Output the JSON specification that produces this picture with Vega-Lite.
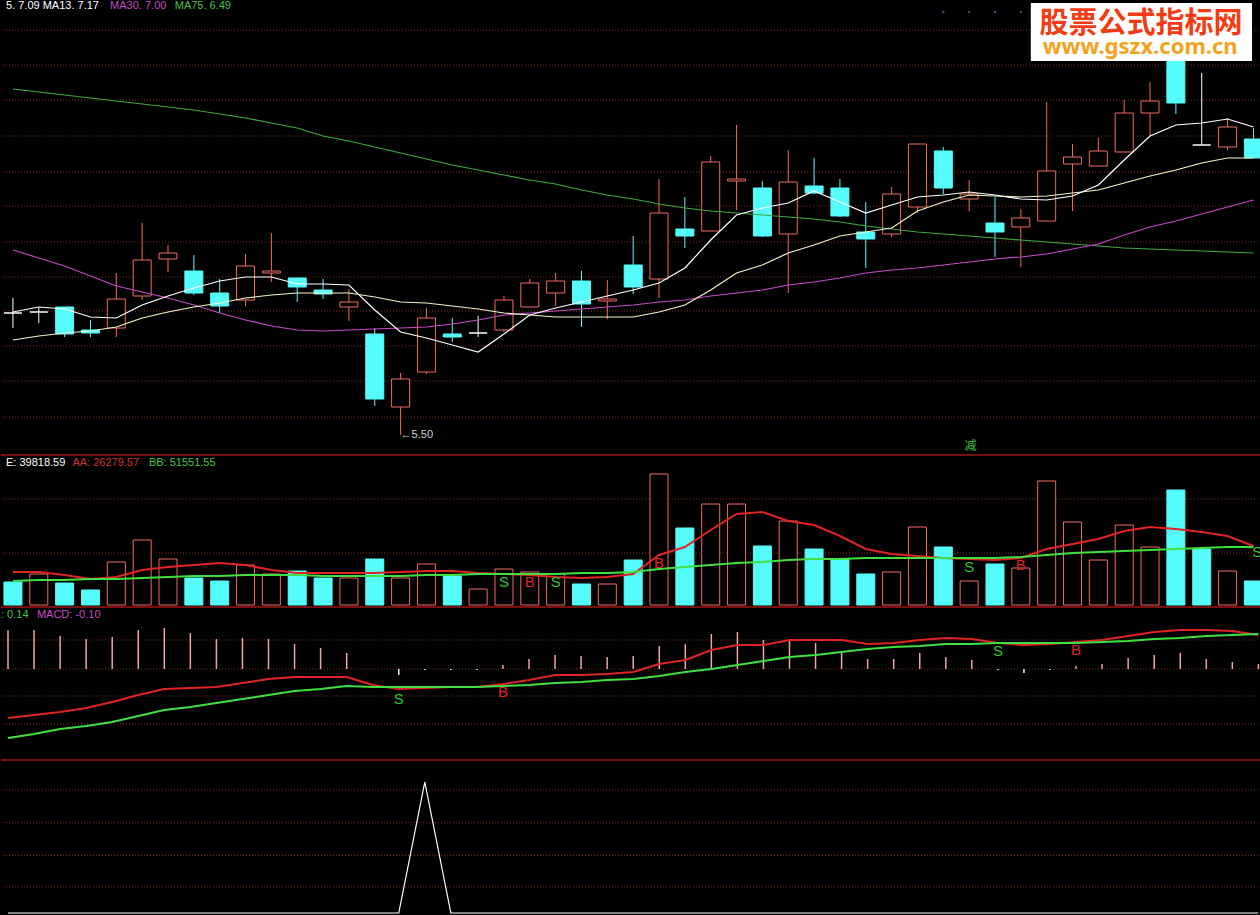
{
"$schema":"https://vega.github.io/schema/vega-lite/v6.json",
"background":"#000000","padding":0,"spacing":0,"bounds":"flush",
"config":{"view":{"stroke":null},"axis":{"disable":true},"legend":{"disable":true},"text":{"font":"Liberation Sans"}},
"datasets":{
"k":[
{"i":0,"o":6.72,"c":6.72,"h":6.87,"l":6.57,"d":"flat","m5":6.73,"m13":6.45,"m30":7.35,"m75":8.96,"v":23000,"vd":"down","aa":33000,"bb":24000,"dif":-0.49,"dea":-0.69,"hist":0.39,"z":0},
{"i":1,"o":6.73,"c":6.73,"h":6.77,"l":6.62,"d":"flat","m5":6.78,"m13":6.49,"m30":7.27,"m75":8.93,"v":31000,"vd":"up","aa":33000,"bb":25000,"dif":-0.46,"dea":-0.65,"hist":0.39,"z":0},
{"i":2,"o":6.78,"c":6.51,"h":6.78,"l":6.48,"d":"down","m5":6.76,"m13":6.52,"m30":7.19,"m75":8.90,"v":22000,"vd":"down","aa":30000,"bb":25000,"dif":-0.43,"dea":-0.60,"hist":0.33,"z":0},
{"i":3,"o":6.55,"c":6.52,"h":6.65,"l":6.48,"d":"down","m5":6.68,"m13":6.54,"m30":7.09,"m75":8.87,"v":15000,"vd":"down","aa":26000,"bb":26000,"dif":-0.39,"dea":-0.57,"hist":0.30,"z":0},
{"i":4,"o":6.57,"c":6.86,"h":7.12,"l":6.48,"d":"up","m5":6.67,"m13":6.58,"m30":6.99,"m75":8.84,"v":43000,"vd":"up","aa":28000,"bb":26000,"dif":-0.33,"dea":-0.53,"hist":0.32,"z":0},
{"i":5,"o":6.89,"c":7.25,"h":7.62,"l":6.85,"d":"up","m5":6.80,"m13":6.67,"m30":6.93,"m75":8.81,"v":65000,"vd":"up","aa":35000,"bb":27000,"dif":-0.26,"dea":-0.47,"hist":0.39,"z":0},
{"i":6,"o":7.26,"c":7.32,"h":7.40,"l":7.13,"d":"up","m5":6.89,"m13":6.73,"m30":6.87,"m75":8.78,"v":46000,"vd":"up","aa":38000,"bb":28000,"dif":-0.20,"dea":-0.41,"hist":0.41,"z":0},
{"i":7,"o":7.14,"c":6.92,"h":7.30,"l":6.90,"d":"down","m5":6.97,"m13":6.78,"m30":6.80,"m75":8.75,"v":27000,"vd":"down","aa":40000,"bb":29000,"dif":-0.19,"dea":-0.38,"hist":0.36,"z":0},
{"i":8,"o":6.92,"c":6.79,"h":7.06,"l":6.72,"d":"down","m5":7.04,"m13":6.82,"m30":6.72,"m75":8.71,"v":24000,"vd":"down","aa":42000,"bb":29000,"dif":-0.18,"dea":-0.34,"hist":0.30,"z":0},
{"i":9,"o":6.85,"c":7.19,"h":7.31,"l":6.79,"d":"up","m5":7.08,"m13":6.87,"m30":6.65,"m75":8.67,"v":40000,"vd":"up","aa":40000,"bb":30000,"dif":-0.14,"dea":-0.30,"hist":0.31,"z":0},
{"i":10,"o":7.12,"c":7.14,"h":7.52,"l":7.03,"d":"up","m5":7.08,"m13":6.90,"m30":6.59,"m75":8.62,"v":31000,"vd":"up","aa":35000,"bb":30000,"dif":-0.10,"dea":-0.26,"hist":0.30,"z":0},
{"i":11,"o":7.07,"c":6.98,"h":7.07,"l":6.83,"d":"down","m5":7.01,"m13":6.92,"m30":6.55,"m75":8.57,"v":34000,"vd":"down","aa":32000,"bb":30000,"dif":-0.08,"dea":-0.22,"hist":0.25,"z":0},
{"i":12,"o":6.95,"c":6.91,"h":7.06,"l":6.86,"d":"down","m5":7.01,"m13":6.92,"m30":6.54,"m75":8.49,"v":27000,"vd":"down","aa":32000,"bb":29000,"dif":-0.08,"dea":-0.20,"hist":0.21,"z":0},
{"i":13,"o":6.78,"c":6.83,"h":6.96,"l":6.64,"d":"up","m5":7.00,"m13":6.92,"m30":6.55,"m75":8.44,"v":27000,"vd":"up","aa":32000,"bb":29000,"dif":-0.08,"dea":-0.17,"hist":0.16,"z":0},
{"i":14,"o":6.51,"c":5.86,"h":6.57,"l":5.79,"d":"down","m5":6.75,"m13":6.88,"m30":6.56,"m75":8.38,"v":46000,"vd":"down","aa":32000,"bb":29000,"dif":-0.16,"dea":-0.18,"hist":0,"z":0},
{"i":15,"o":5.78,"c":6.06,"h":6.12,"l":5.50,"d":"up","m5":6.53,"m13":6.83,"m30":6.57,"m75":8.32,"v":27000,"vd":"up","aa":33000,"bb":29000,"dif":-0.20,"dea":-0.18,"hist":-0.06,"z":0},
{"i":16,"o":6.13,"c":6.67,"h":6.77,"l":6.11,"d":"up","m5":6.47,"m13":6.82,"m30":6.58,"m75":8.26,"v":41000,"vd":"up","aa":34000,"bb":30000,"dif":-0.19,"dea":-0.18,"hist":-0.01,"z":1},
{"i":17,"o":6.51,"c":6.48,"h":6.67,"l":6.43,"d":"down","m5":6.40,"m13":6.79,"m30":6.61,"m75":8.20,"v":29000,"vd":"down","aa":34000,"bb":30000,"dif":-0.18,"dea":-0.18,"hist":-0.01,"z":0},
{"i":18,"o":6.52,"c":6.52,"h":6.69,"l":6.48,"d":"flat","m5":6.33,"m13":6.76,"m30":6.65,"m75":8.15,"v":16000,"vd":"up","aa":32000,"bb":31000,"dif":-0.18,"dea":-0.18,"hist":-0.01,"z":0},
{"i":19,"o":6.55,"c":6.85,"h":6.89,"l":6.53,"d":"up","m5":6.51,"m13":6.72,"m30":6.70,"m75":8.10,"v":36000,"vd":"up","aa":31000,"bb":31000,"dif":-0.15,"dea":-0.17,"hist":0.04,"z":0},
{"i":20,"o":6.78,"c":7.02,"h":7.06,"l":6.78,"d":"up","m5":6.70,"m13":6.70,"m30":6.72,"m75":8.05,"v":33000,"vd":"up","aa":30000,"bb":31000,"dif":-0.11,"dea":-0.16,"hist":0.10,"z":0},
{"i":21,"o":6.92,"c":7.04,"h":7.12,"l":6.79,"d":"up","m5":6.77,"m13":6.68,"m30":6.74,"m75":8.01,"v":31000,"vd":"up","aa":28000,"bb":31000,"dif":-0.06,"dea":-0.14,"hist":0.14,"z":0},
{"i":22,"o":7.04,"c":6.81,"h":7.14,"l":6.58,"d":"down","m5":6.83,"m13":6.68,"m30":6.76,"m75":7.95,"v":21000,"vd":"down","aa":27000,"bb":32000,"dif":-0.06,"dea":-0.13,"hist":0.13,"z":0},
{"i":23,"o":6.84,"c":6.86,"h":7.05,"l":6.66,"d":"up","m5":6.89,"m13":6.68,"m30":6.78,"m75":7.90,"v":21000,"vd":"up","aa":28000,"bb":32000,"dif":-0.05,"dea":-0.11,"hist":0.12,"z":0},
{"i":24,"o":7.20,"c":6.98,"h":7.49,"l":6.91,"d":"down","m5":6.95,"m13":6.68,"m30":6.80,"m75":7.86,"v":45000,"vd":"down","aa":31000,"bb":33000,"dif":-0.03,"dea":-0.10,"hist":0.13,"z":0},
{"i":25,"o":7.06,"c":7.72,"h":8.06,"l":6.87,"d":"up","m5":7.02,"m13":6.73,"m30":6.83,"m75":7.81,"v":131000,"vd":"up","aa":50000,"bb":36000,"dif":0.05,"dea":-0.07,"hist":0.23,"z":0},
{"i":26,"o":7.56,"c":7.49,"h":7.88,"l":7.37,"d":"down","m5":7.17,"m13":6.80,"m30":6.85,"m75":7.77,"v":77000,"vd":"down","aa":58000,"bb":38000,"dif":0.09,"dea":-0.03,"hist":0.25,"z":0},
{"i":27,"o":7.54,"c":8.23,"h":8.29,"l":7.54,"d":"up","m5":7.45,"m13":6.95,"m30":6.89,"m75":7.74,"v":101000,"vd":"up","aa":75000,"bb":40000,"dif":0.19,"dea":0.00,"hist":0.35,"z":0},
{"i":28,"o":8.04,"c":8.06,"h":8.60,"l":7.75,"d":"up","m5":7.70,"m13":7.12,"m30":6.92,"m75":7.72,"v":101000,"vd":"up","aa":91000,"bb":42000,"dif":0.24,"dea":0.04,"hist":0.37,"z":0},
{"i":29,"o":7.97,"c":7.49,"h":8.04,"l":7.48,"d":"down","m5":7.77,"m13":7.20,"m30":6.95,"m75":7.70,"v":59000,"vd":"down","aa":93000,"bb":43000,"dif":0.24,"dea":0.08,"hist":0.29,"z":0},
{"i":30,"o":7.51,"c":8.03,"h":8.35,"l":6.92,"d":"up","m5":7.82,"m13":7.32,"m30":7.00,"m75":7.68,"v":84000,"vd":"up","aa":84000,"bb":45000,"dif":0.29,"dea":0.12,"hist":0.29,"z":0},
{"i":31,"o":7.99,"c":7.92,"h":8.27,"l":7.91,"d":"down","m5":7.94,"m13":7.40,"m30":7.03,"m75":7.66,"v":56000,"vd":"down","aa":80000,"bb":46000,"dif":0.29,"dea":0.14,"hist":0.26,"z":0},
{"i":32,"o":7.97,"c":7.69,"h":8.06,"l":7.68,"d":"down","m5":7.83,"m13":7.49,"m30":7.07,"m75":7.63,"v":46000,"vd":"down","aa":69000,"bb":46000,"dif":0.29,"dea":0.17,"hist":0.18,"z":0},
{"i":33,"o":7.53,"c":7.46,"h":7.83,"l":7.17,"d":"down","m5":7.72,"m13":7.53,"m30":7.12,"m75":7.59,"v":31000,"vd":"down","aa":56000,"bb":47000,"dif":0.25,"dea":0.20,"hist":0.10,"z":0},
{"i":34,"o":7.51,"c":7.91,"h":7.98,"l":7.48,"d":"up","m5":7.80,"m13":7.57,"m30":7.15,"m75":7.56,"v":33000,"vd":"up","aa":51000,"bb":47000,"dif":0.26,"dea":0.22,"hist":0.10,"z":0},
{"i":35,"o":7.78,"c":8.41,"h":8.41,"l":7.72,"d":"up","m5":7.88,"m13":7.74,"m30":7.17,"m75":7.53,"v":78000,"vd":"up","aa":49000,"bb":47000,"dif":0.29,"dea":0.23,"hist":0.16,"z":0},
{"i":36,"o":8.34,"c":7.97,"h":8.38,"l":7.91,"d":"down","m5":7.90,"m13":7.83,"m30":7.20,"m75":7.51,"v":58000,"vd":"down","aa":47000,"bb":47000,"dif":0.31,"dea":0.25,"hist":0.12,"z":0},
{"i":37,"o":7.86,"c":7.91,"h":8.05,"l":7.74,"d":"up","m5":7.93,"m13":7.90,"m30":7.23,"m75":7.49,"v":24000,"vd":"up","aa":46000,"bb":47000,"dif":0.30,"dea":0.25,"hist":0.09,"z":0},
{"i":38,"o":7.62,"c":7.53,"h":7.88,"l":7.28,"d":"down","m5":7.90,"m13":7.89,"m30":7.26,"m75":7.47,"v":41000,"vd":"down","aa":45000,"bb":47000,"dif":0.26,"dea":0.26,"hist":-0.01,"z":0},
{"i":39,"o":7.58,"c":7.67,"h":7.76,"l":7.18,"d":"up","m5":7.86,"m13":7.88,"m30":7.28,"m75":7.45,"v":37000,"vd":"up","aa":47000,"bb":48000,"dif":0.24,"dea":0.26,"hist":-0.04,"z":0},
{"i":40,"o":7.64,"c":8.14,"h":8.83,"l":7.64,"d":"up","m5":7.85,"m13":7.89,"m30":7.31,"m75":7.43,"v":124000,"vd":"up","aa":56000,"bb":50000,"dif":0.25,"dea":0.26,"hist":-0.01,"z":0},
{"i":41,"o":8.21,"c":8.28,"h":8.41,"l":7.74,"d":"up","m5":7.89,"m13":7.92,"m30":7.36,"m75":7.41,"v":83000,"vd":"up","aa":61000,"bb":52000,"dif":0.27,"dea":0.26,"hist":0.03,"z":0},
{"i":42,"o":8.19,"c":8.34,"h":8.47,"l":8.19,"d":"up","m5":8.00,"m13":7.95,"m30":7.41,"m75":7.39,"v":45000,"vd":"up","aa":66000,"bb":53000,"dif":0.29,"dea":0.27,"hist":0.05,"z":0},
{"i":43,"o":8.33,"c":8.72,"h":8.85,"l":8.33,"d":"up","m5":8.25,"m13":8.02,"m30":7.50,"m75":7.37,"v":80000,"vd":"up","aa":74000,"bb":54000,"dif":0.33,"dea":0.28,"hist":0.11,"z":0},
{"i":44,"o":8.72,"c":8.84,"h":9.03,"l":8.49,"d":"up","m5":8.49,"m13":8.09,"m30":7.58,"m75":7.36,"v":58000,"vd":"up","aa":78000,"bb":55000,"dif":0.37,"dea":0.30,"hist":0.14,"z":0},
{"i":45,"o":9.28,"c":8.82,"h":9.30,"l":8.71,"d":"down","m5":8.60,"m13":8.15,"m30":7.64,"m75":7.35,"v":115000,"vd":"down","aa":76000,"bb":56000,"dif":0.39,"dea":0.31,"hist":0.16,"z":0},
{"i":46,"o":8.40,"c":8.40,"h":9.12,"l":8.40,"d":"flat","m5":8.62,"m13":8.22,"m30":7.71,"m75":7.34,"v":56000,"vd":"down","aa":73000,"bb":57000,"dif":0.39,"dea":0.33,"hist":0.10,"z":0},
{"i":47,"o":8.38,"c":8.58,"h":8.67,"l":8.35,"d":"up","m5":8.66,"m13":8.27,"m30":7.78,"m75":7.33,"v":34000,"vd":"up","aa":69000,"bb":58000,"dif":0.38,"dea":0.34,"hist":0.07,"z":0},
{"i":48,"o":8.46,"c":8.27,"h":8.57,"l":8.27,"d":"down","m5":8.58,"m13":8.27,"m30":7.85,"m75":7.32,"v":24000,"vd":"down","aa":59000,"bb":58000,"dif":0.34,"dea":0.35,"hist":0.05,"z":0}
],
"gp":[{"p":9.55},{"p":9.20},{"p":8.85},{"p":8.49},{"p":8.13},{"p":7.79},{"p":7.43},{"p":7.08},{"p":6.74},{"p":6.39},{"p":6.04},{"p":5.68}],
"gv":[{"v":106000},{"v":52000}],
"gm":[{"m":0.29},{"m":0},{"m":-0.27},{"m":-0.55}],
"gz":[{"z":0.94},{"z":0.69},{"z":0.44},{"z":0.20}],
"sv":[{"i":19,"v":23000,"t":"S"},{"i":20,"v":23000,"t":"B"},{"i":21,"v":23000,"t":"S"},{"i":25,"v":42000,"t":"B"},{"i":37,"v":38000,"t":"S"},{"i":39,"v":40000,"t":"B"},{"i":48.15,"v":53000,"t":"S"}],
"sm":[{"i":15,"m":-0.30,"t":"S"},{"i":19,"m":-0.23,"t":"B"},{"i":38,"m":0.18,"t":"S"},{"i":41,"m":0.19,"t":"B"}],
"dots":[{"i":36,"p":9.73},{"i":37,"p":9.73},{"i":38,"p":9.73},{"i":39,"p":9.73}]
},
"vconcat":[
{"width":1260,"height":455,
 "layer":[
  {"data":{"name":"gp"},"mark":{"type":"rule","color":"#7a3418","strokeDash":[1,2],"strokeWidth":1},
   "encoding":{"y":{"field":"p","type":"quantitative","scale":{"domain":[5.30,9.85],"nice":false,"zero":false}}}},
  {"data":{"name":"k"},"mark":{"type":"rule","strokeWidth":1,"clip":true},
   "encoding":{"x":{"field":"i","type":"quantitative","scale":{"domain":[-0.269,48.1],"nice":false,"zero":false}},
    "y":{"field":"l","type":"quantitative","scale":{"domain":[5.30,9.85],"nice":false,"zero":false}},"y2":{"field":"h"},
    "stroke":{"field":"d","type":"nominal","scale":{"domain":["up","down","flat"],"range":["#f06a62","#54fcfc","#ffffff"]}}}},
  {"data":{"name":"k"},"mark":{"type":"bar","size":18,"strokeWidth":1,"orient":"vertical","clip":true},
   "encoding":{"x":{"field":"i","type":"quantitative","scale":{"domain":[-0.269,48.1],"nice":false,"zero":false}},
    "y":{"field":"o","type":"quantitative","scale":{"domain":[5.30,9.85],"nice":false,"zero":false}},"y2":{"field":"c"},
    "fill":{"field":"d","type":"nominal","scale":{"domain":["up","down","flat"],"range":["#000000","#54fcfc","#000000"]}},
    "stroke":{"field":"d","type":"nominal","scale":{"domain":["up","down","flat"],"range":["#f06a62","#54fcfc","#ffffff"]}}}},
  {"data":{"name":"k"},"mark":{"type":"line","color":"#3fa83f","strokeWidth":1.2,"clip":true},
   "encoding":{"x":{"field":"i","type":"quantitative","scale":{"domain":[-0.269,48.1],"nice":false,"zero":false}},
    "y":{"field":"m75","type":"quantitative","scale":{"domain":[5.30,9.85],"nice":false,"zero":false}}}},
  {"data":{"name":"k"},"mark":{"type":"line","color":"#c848c8","strokeWidth":1.2,"clip":true},
   "encoding":{"x":{"field":"i","type":"quantitative","scale":{"domain":[-0.269,48.1],"nice":false,"zero":false}},
    "y":{"field":"m30","type":"quantitative","scale":{"domain":[5.30,9.85],"nice":false,"zero":false}}}},
  {"data":{"name":"k"},"mark":{"type":"line","color":"#f4f4c8","strokeWidth":1.2,"clip":true},
   "encoding":{"x":{"field":"i","type":"quantitative","scale":{"domain":[-0.269,48.1],"nice":false,"zero":false}},
    "y":{"field":"m13","type":"quantitative","scale":{"domain":[5.30,9.85],"nice":false,"zero":false}}}},
  {"data":{"name":"k"},"mark":{"type":"line","color":"#ffffff","strokeWidth":1.2,"clip":true},
   "encoding":{"x":{"field":"i","type":"quantitative","scale":{"domain":[-0.269,48.1],"nice":false,"zero":false}},
    "y":{"field":"m5","type":"quantitative","scale":{"domain":[5.30,9.85],"nice":false,"zero":false}}}},
  {"data":{"name":"dots"},"mark":{"type":"point","filled":true,"size":6,"color":"#9a48c0"},
   "encoding":{"x":{"field":"i","type":"quantitative","scale":{"domain":[-0.269,48.1],"nice":false,"zero":false}},
    "y":{"field":"p","type":"quantitative","scale":{"domain":[5.30,9.85],"nice":false,"zero":false}}}},
  {"data":{"values":[{"i":-0.269,"p":9.85,"t":"5. 7.09 MA13. 7.17"}]},"mark":{"type":"text","align":"left","baseline":"top","fontSize":11,"color":"#ffffff","clip":true},
   "encoding":{"x":{"field":"i","type":"quantitative","scale":{"domain":[-0.269,48.1],"nice":false,"zero":false}},
    "y":{"field":"p","type":"quantitative","scale":{"domain":[5.30,9.85],"nice":false,"zero":false}},"text":{"field":"t"}}},
  {"data":{"values":[{"i":3.76,"p":9.85,"t":"MA30. 7.00"}]},"mark":{"type":"text","align":"left","baseline":"top","fontSize":11,"color":"#c848c8","clip":true},
   "encoding":{"x":{"field":"i","type":"quantitative","scale":{"domain":[-0.269,48.1],"nice":false,"zero":false}},
    "y":{"field":"p","type":"quantitative","scale":{"domain":[5.30,9.85],"nice":false,"zero":false}},"text":{"field":"t"}}},
  {"data":{"values":[{"i":6.26,"p":9.85,"t":"MA75. 6.49"}]},"mark":{"type":"text","align":"left","baseline":"top","fontSize":11,"color":"#4cc04c","clip":true},
   "encoding":{"x":{"field":"i","type":"quantitative","scale":{"domain":[-0.269,48.1],"nice":false,"zero":false}},
    "y":{"field":"p","type":"quantitative","scale":{"domain":[5.30,9.85],"nice":false,"zero":false}},"text":{"field":"t"}}},
  {"data":{"values":[{"i":15.0,"p":5.50,"t":"←5.50"}]},"mark":{"type":"text","align":"left","baseline":"middle","fontSize":11,"color":"#d0d0d0"},
   "encoding":{"x":{"field":"i","type":"quantitative","scale":{"domain":[-0.269,48.1],"nice":false,"zero":false}},
    "y":{"field":"p","type":"quantitative","scale":{"domain":[5.30,9.85],"nice":false,"zero":false}},"text":{"field":"t"}}},
  {"data":{"values":[{"i":37.05,"p":5.39,"t":"减"}]},"mark":{"type":"text","align":"center","baseline":"middle","fontSize":12,"font":"Noto Sans CJK SC","color":"#3cc03c"},
   "encoding":{"x":{"field":"i","type":"quantitative","scale":{"domain":[-0.269,48.1],"nice":false,"zero":false}},
    "y":{"field":"p","type":"quantitative","scale":{"domain":[5.30,9.85],"nice":false,"zero":false}},"text":{"field":"t"}}},
  {"data":{"values":[{"a":39.386,"b":47.946,"p1":9.82,"p2":9.24}]},"mark":{"type":"rect","color":"#ffffff"},
   "encoding":{"x":{"field":"a","type":"quantitative","scale":{"domain":[-0.269,48.1],"nice":false,"zero":false}},"x2":{"field":"b"},
    "y":{"field":"p1","type":"quantitative","scale":{"domain":[5.30,9.85],"nice":false,"zero":false}},"y2":{"field":"p2"}}},
  {"data":{"values":[{"i":43.65,"p":9.615,"t":"股票公式指标网"}]},"mark":{"type":"text","align":"center","baseline":"middle","fontSize":29,"font":"Noto Sans CJK SC","fontWeight":"bold","color":"#f43c14"},
   "encoding":{"x":{"field":"i","type":"quantitative","scale":{"domain":[-0.269,48.1],"nice":false,"zero":false}},
    "y":{"field":"p","type":"quantitative","scale":{"domain":[5.30,9.85],"nice":false,"zero":false}},"text":{"field":"t"}}},
  {"data":{"values":[{"i":43.62,"p":9.385,"t":"www.gszx.com.cn"}]},"mark":{"type":"text","align":"center","baseline":"middle","fontSize":22,"font":"Noto Sans","fontWeight":"bold","color":"#f2a21e"},
   "encoding":{"x":{"field":"i","type":"quantitative","scale":{"domain":[-0.269,48.1],"nice":false,"zero":false}},
    "y":{"field":"p","type":"quantitative","scale":{"domain":[5.30,9.85],"nice":false,"zero":false}},"text":{"field":"t"}}}
 ]},
{"width":1260,"height":152,
 "layer":[
  {"data":{"name":"gv"},"mark":{"type":"rule","color":"#7a3418","strokeDash":[1,2],"strokeWidth":1},
   "encoding":{"y":{"field":"v","type":"quantitative","scale":{"domain":[-2000,150000],"nice":false,"zero":false}}}},
  {"data":{"name":"k"},"mark":{"type":"bar","size":18,"strokeWidth":1,"orient":"vertical","clip":true},
   "encoding":{"x":{"field":"i","type":"quantitative","scale":{"domain":[-0.269,48.1],"nice":false,"zero":false}},
    "y":{"field":"v","type":"quantitative","scale":{"domain":[-2000,150000],"nice":false,"zero":false}},"y2":{"datum":0},
    "fill":{"field":"vd","type":"nominal","scale":{"domain":["up","down"],"range":["#000000","#54fcfc"]}},
    "stroke":{"field":"vd","type":"nominal","scale":{"domain":["up","down"],"range":["#f06a62","#54fcfc"]}}}},
  {"data":{"name":"k"},"mark":{"type":"line","color":"#e02424","strokeWidth":2,"clip":true},
   "encoding":{"x":{"field":"i","type":"quantitative","scale":{"domain":[-0.269,48.1],"nice":false,"zero":false}},
    "y":{"field":"aa","type":"quantitative","scale":{"domain":[-2000,150000],"nice":false,"zero":false}}}},
  {"data":{"name":"k"},"mark":{"type":"line","color":"#40e040","strokeWidth":2,"clip":true},
   "encoding":{"x":{"field":"i","type":"quantitative","scale":{"domain":[-0.269,48.1],"nice":false,"zero":false}},
    "y":{"field":"bb","type":"quantitative","scale":{"domain":[-2000,150000],"nice":false,"zero":false}}}},
  {"data":{"name":"sv"},"mark":{"type":"text","align":"center","baseline":"middle","fontSize":15,"clip":true},
   "encoding":{"x":{"field":"i","type":"quantitative","scale":{"domain":[-0.269,48.1],"nice":false,"zero":false}},
    "y":{"field":"v","type":"quantitative","scale":{"domain":[-2000,150000],"nice":false,"zero":false}},"text":{"field":"t"},
    "color":{"field":"t","type":"nominal","scale":{"domain":["S","B"],"range":["#2ec82e","#e02020"]}}}},
  {"data":{"values":[{"i":-0.269,"v":142000,"t":"E: 39818.59"}]},"mark":{"type":"text","align":"left","baseline":"middle","fontSize":11,"color":"#ffffff"},
   "encoding":{"x":{"field":"i","type":"quantitative","scale":{"domain":[-0.269,48.1],"nice":false,"zero":false}},
    "y":{"field":"v","type":"quantitative","scale":{"domain":[-2000,150000],"nice":false,"zero":false}},"text":{"field":"t"}}},
  {"data":{"values":[{"i":2.30,"v":142000,"t":"AA: 26279.57"}]},"mark":{"type":"text","align":"left","baseline":"middle","fontSize":11,"color":"#d83030"},
   "encoding":{"x":{"field":"i","type":"quantitative","scale":{"domain":[-0.269,48.1],"nice":false,"zero":false}},
    "y":{"field":"v","type":"quantitative","scale":{"domain":[-2000,150000],"nice":false,"zero":false}},"text":{"field":"t"}}},
  {"data":{"values":[{"i":5.26,"v":142000,"t":"BB: 51551.55"}]},"mark":{"type":"text","align":"left","baseline":"middle","fontSize":11,"color":"#4cc04c"},
   "encoding":{"x":{"field":"i","type":"quantitative","scale":{"domain":[-0.269,48.1],"nice":false,"zero":false}},
    "y":{"field":"v","type":"quantitative","scale":{"domain":[-2000,150000],"nice":false,"zero":false}},"text":{"field":"t"}}},
  {"data":{"values":[{"v":150000}]},"mark":{"type":"rule","color":"#a01414","strokeWidth":1.5},
   "encoding":{"y":{"field":"v","type":"quantitative","scale":{"domain":[-2000,150000],"nice":false,"zero":false}}}}
 ]},
{"width":1260,"height":153,
 "layer":[
  {"data":{"name":"gm"},"mark":{"type":"rule","color":"#7a3418","strokeDash":[1,2],"strokeWidth":1},
   "encoding":{"y":{"field":"m","type":"quantitative","scale":{"domain":[-0.91,0.62],"nice":false,"zero":false}}}},
  {"data":{"name":"k"},"mark":{"type":"rule","strokeWidth":1.5,"clip":true},
   "encoding":{"x":{"field":"i","type":"quantitative","scale":{"domain":[-0.269,48.1],"nice":false,"zero":false}},
    "y":{"field":"hist","type":"quantitative","scale":{"domain":[-0.91,0.62],"nice":false,"zero":false}},"y2":{"datum":0},
    "color":{"condition":{"test":"datum.hist < 0","value":"#d8ffff"},"value":"#f0a4a4"}}},
  {"data":{"name":"k"},"mark":{"type":"line","color":"#e02424","strokeWidth":2,"clip":true},
   "encoding":{"x":{"field":"i","type":"quantitative","scale":{"domain":[-0.269,48.1],"nice":false,"zero":false}},
    "y":{"field":"dif","type":"quantitative","scale":{"domain":[-0.91,0.62],"nice":false,"zero":false}}}},
  {"data":{"name":"k"},"mark":{"type":"line","color":"#40e040","strokeWidth":2,"clip":true},
   "encoding":{"x":{"field":"i","type":"quantitative","scale":{"domain":[-0.269,48.1],"nice":false,"zero":false}},
    "y":{"field":"dea","type":"quantitative","scale":{"domain":[-0.91,0.62],"nice":false,"zero":false}}}},
  {"data":{"name":"sm"},"mark":{"type":"text","align":"center","baseline":"middle","fontSize":15,"clip":true},
   "encoding":{"x":{"field":"i","type":"quantitative","scale":{"domain":[-0.269,48.1],"nice":false,"zero":false}},
    "y":{"field":"m","type":"quantitative","scale":{"domain":[-0.91,0.62],"nice":false,"zero":false}},"text":{"field":"t"},
    "color":{"field":"t","type":"nominal","scale":{"domain":["S","B"],"range":["#2ec82e","#e02020"]}}}},
  {"data":{"values":[{"i":-0.269,"m":0.54,"t":": 0.14"}]},"mark":{"type":"text","align":"left","baseline":"middle","fontSize":11,"color":"#4cc04c"},
   "encoding":{"x":{"field":"i","type":"quantitative","scale":{"domain":[-0.269,48.1],"nice":false,"zero":false}},
    "y":{"field":"m","type":"quantitative","scale":{"domain":[-0.91,0.62],"nice":false,"zero":false}},"text":{"field":"t"}}},
  {"data":{"values":[{"i":1.11,"m":0.54,"t":"MACD: -0.10"}]},"mark":{"type":"text","align":"left","baseline":"middle","fontSize":11,"color":"#c848c8"},
   "encoding":{"x":{"field":"i","type":"quantitative","scale":{"domain":[-0.269,48.1],"nice":false,"zero":false}},
    "y":{"field":"m","type":"quantitative","scale":{"domain":[-0.91,0.62],"nice":false,"zero":false}},"text":{"field":"t"}}},
  {"data":{"values":[{"m":0.62}]},"mark":{"type":"rule","color":"#a01414","strokeWidth":1.5},
   "encoding":{"y":{"field":"m","type":"quantitative","scale":{"domain":[-0.91,0.62],"nice":false,"zero":false}}}}
 ]},
{"width":1260,"height":155,
 "layer":[
  {"data":{"name":"gz"},"mark":{"type":"rule","color":"#7a3418","strokeDash":[1,2],"strokeWidth":1},
   "encoding":{"y":{"field":"z","type":"quantitative","scale":{"domain":[-0.0153,1.168],"nice":false,"zero":false}}}},
  {"data":{"name":"k"},"mark":{"type":"line","color":"#ffffff","strokeWidth":1.2,"clip":true},
   "encoding":{"x":{"field":"i","type":"quantitative","scale":{"domain":[-0.269,48.1],"nice":false,"zero":false}},
    "y":{"field":"z","type":"quantitative","scale":{"domain":[-0.0153,1.168],"nice":false,"zero":false}}}},
  {"data":{"values":[{"z":1.168}]},"mark":{"type":"rule","color":"#a01414","strokeWidth":1.5},
   "encoding":{"y":{"field":"z","type":"quantitative","scale":{"domain":[-0.0153,1.168],"nice":false,"zero":false}}}}
 ]}
]
}
